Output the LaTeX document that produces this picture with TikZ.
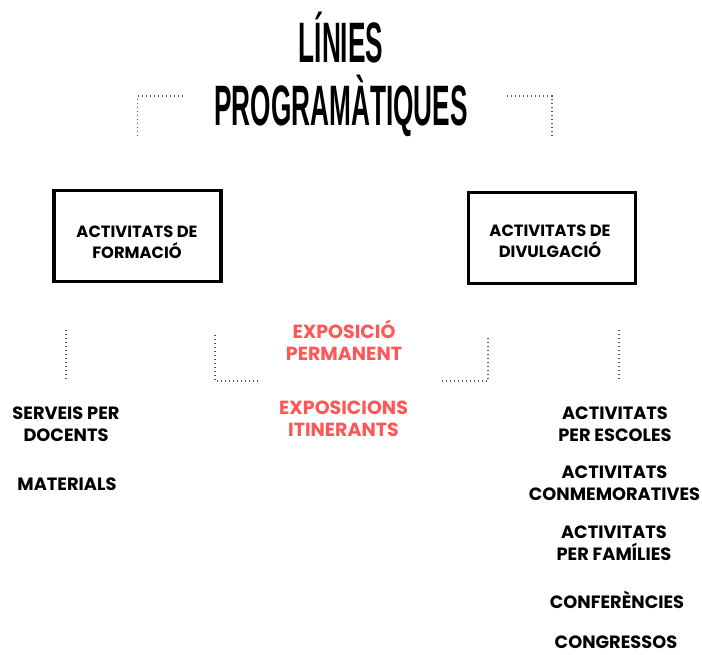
\documentclass[tikz,border=0pt]{standalone}
\usepackage{fontspec}
\setmainfont{Poppins}
\newfontfamily\titlefont{Liberation Sans}
\usepackage{tikz}
\usetikzlibrary{positioning}

\definecolor{expored}{HTML}{FF5757}
\definecolor{dotgray}{HTML}{555555}

\begin{document}
\begin{tikzpicture}[x = 1pt, y = -1pt,
    every node/.style = { align = center, inner sep = 0pt },
    titletext/.style = { font = \titlefont\bfseries\fontsize{57}{57}\selectfont, anchor = base },
    item/.style = { font = \bfseries\fontsize{17.8}{22}\selectfont },
    boxtext/.style = { font = \bfseries\fontsize{16.3}{21}\selectfont },
    expo/.style = { font = \bfseries\fontsize{19}{22}\selectfont, text = expored },
    areabox/.style = { draw, line width = 3.8pt, minimum width = 167pt, minimum height = 91pt },
    dotline/.style = { dotgray, line width = 1.4pt, dash pattern = on 1.3pt off 2.7pt }
  ]
  \useasboundingbox (0,0) rectangle (702,654);

  % title
  \node [titletext] (linies) at (341,62) {\scalebox{0.46}[1]{LÍNIES}};
  \node [titletext] (programatiques) at (341,125) {\scalebox{0.46}[1]{PROGRAMÀTIQUES}};

  % the two areas
  \node [areabox] (formacio) at (137.5,236) {};
  \node [boxtext] (formaciotext) at (137,242) {ACTIVITATS DE\\FORMACIÓ};
  \node [areabox] (divulgacio) at (552,238) {};
  \node [boxtext] (divulgaciotext) at (550,241) {ACTIVITATS DE\\DIVULGACIÓ};

  % exhibitions
  \node [expo] (permanent) at (344,340) {EXPOSICIÓ\\PERMANENT};
  \node [expo] (itinerants) at (343.5,419) {EXPOSICIONS\\ITINERANTS};

  % left column
  \node [item] (serveis) at (66,424.5) {SERVEIS PER\\DOCENTS};
  \node [item] (materials) at (67,484) {MATERIALS};

  % right column
  \node [item] (escoles) at (615,424) {ACTIVITATS\\PER ESCOLES};
  \node [item] (conmemoratives) at (614.5,483.5) {ACTIVITATS\\CONMEMORATIVES};
  \node [item] (families) at (614,543) {ACTIVITATS\\PER FAMÍLIES};
  \node [item] (conferencies) at (617,600) {CONFERÈNCIES};
  \node [item] (congressos) at (616,642) {CONGRESSOS};

  % dotted guides
  \coordinate (topleft) at (183,96);
  \coordinate (topright) at (507,96);
  \coordinate (lowleft) at (258,381);
  \coordinate (lowright) at (442,381);
  \coordinate (leftend) at (66,379);
  \coordinate (rightend) at (619,379);
  \draw [dotline] (topleft) -| ([yshift = 52pt]formacio.north);
  \draw [dotline] (topright) -| ([yshift = 52pt]divulgacio.north);
  \draw [dotline] (66,330) -- (leftend);
  \draw [dotline] (lowleft) -| (215,335);
  \draw [dotline] (lowright) -| (488,337);
  \draw [dotline] (619,330) -- (rightend);
\end{tikzpicture}
\end{document}
